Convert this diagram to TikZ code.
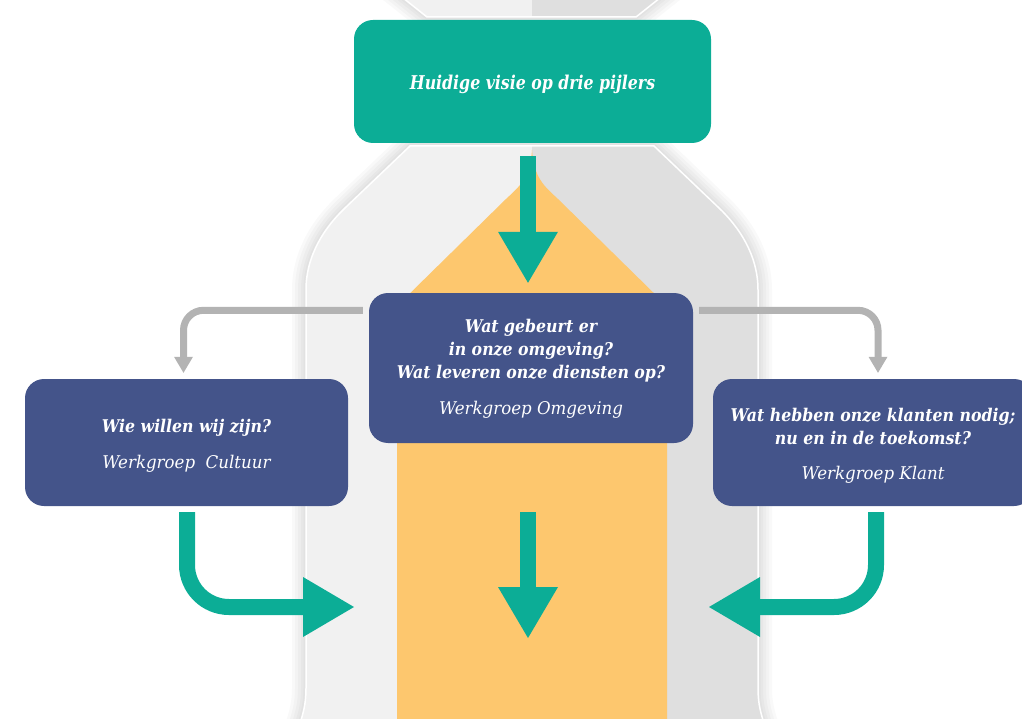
\documentclass[tikz,border=0pt]{standalone}
\usepackage{fontspec}
\setmainfont{DejaVu Serif}[ItalicFeatures={FakeStretch=0.95}, BoldItalicFeatures={FakeStretch=0.9}]
\newfontfamily\headfont{DejaVu Serif}[FakeStretch=0.83]
\usetikzlibrary{arrows.meta,calc}
\definecolor{tgreen}{HTML}{0CAD96}
\definecolor{navy}{HTML}{44548A}
\definecolor{peach}{HTML}{FDC76E}
\definecolor{grayL}{HTML}{F1F1F1}
\definecolor{grayR}{HTML}{DFDFDF}
\definecolor{agray}{HTML}{B3B3B3}
\begin{document}
\begin{tikzpicture}[x=1pt,y=-1pt,
  gbox/.style={fill=tgreen, rounded corners=19pt, minimum width=357pt, minimum height=123pt, inner sep=0pt},
  nbox/.style={fill=navy, rounded corners=19pt, inner sep=0pt},
  headtext/.style={text=white, inner sep=0pt, font=\headfont\bfseries\itshape\fontsize{19}{23}\selectfont},
  boxtext/.style={text=white, align=center, inner sep=0pt, font=\bfseries\itshape\fontsize{17.5}{23}\selectfont},
  garrow/.style={draw=tgreen, line width=16pt, -{Triangle[width=60pt,length=51pt,line width=0pt]}},
  grayarr/.style={draw=agray, line width=7pt, rounded corners=20pt, -{Triangle[width=19pt,length=16pt,line width=0pt]}},
  shadowline/.style={draw=black, opacity=0.025}
]
\useasboundingbox (0,0) rectangle (1022,719);
\def\bottle{(410,146) -- (345,208) .. controls (325,227) and (306,255) .. (306,290) -- (306,688) .. controls (306,705) and (303,714) .. (298,730) -- (766,730) .. controls (761,714) and (758,705) .. (758,688) -- (758,290) .. controls (758,255) and (739,227) .. (719,208) -- (654,146) -- cycle}
\def\topcap{(393,-10) -- (427,17) -- (636,17) -- (670,-10) -- cycle}
% shadows
\foreach \w in {28,22,16,10,5} {
  \path[shadowline, line width=\w pt] \bottle;
  \path[shadowline, line width=\w pt] \topcap;
}
% bottle halves
\begin{scope}
  \clip \bottle;
  \fill[grayL] (0,0) rectangle (532,730);
  \fill[grayR] (532,0) rectangle (1022,730);
\end{scope}
\begin{scope}
  \clip \topcap;
  \fill[grayL] (0,-20) rectangle (532,30);
  \fill[grayR] (532,-20) rectangle (1022,30);
\end{scope}
\draw[white, line width=1.5pt] \bottle;
\draw[white, line width=1.5pt] \topcap;
% orange funnel
\fill[peach] (532,150) .. controls (530,178) and (520,186) .. (506,199) -- (397,306) -- (397,730)
  -- (667,730) -- (667,306) -- (558,199) .. controls (544,186) and (534,178) .. (532,150) -- cycle;
% boxes
\node[gbox] (top) at (532.5,81.5) {};
\node[headtext] (topT) at ([yshift=-2.5pt]top.center) {Huidige visie op drie pijlers};
\node[nbox, minimum width=324pt, minimum height=150pt] (omg) at (531,368) {};
\node[boxtext] (omgT) at ([yshift=-1pt]omg.center)
  {Wat gebeurt er\\in onze omgeving?\\Wat leveren onze diensten op?\\[13pt]{\mdseries Werkgroep Omgeving}};
\node[nbox, minimum width=323pt, minimum height=127pt] (cult) at (186.5,442.5) {};
\node[boxtext] (cultT) at ([yshift=-3pt]cult.center)
  {Wie willen wij zijn?\\[13pt]{\mdseries Werkgroep~ Cultuur}};
\node[nbox, minimum width=320pt, minimum height=127pt] (klant) at (873,442.5) {};
\node[boxtext] (klantT) at ([yshift=-3pt]klant.center)
  {Wat hebben onze klanten nodig;\\nu en in de toekomst?\\[12pt]{\mdseries Werkgroep Klant}};
% free ends
\coordinate (dest) at (528,638);
\coordinate (inL) at (354,607);
\coordinate (inR) at (709,607);
% arrows
\draw[garrow] ([xshift=-4.5pt,yshift=-13pt]top.south) -- ([xshift=-3pt,yshift=10pt]omg.north);
\draw[garrow] ([xshift=-3pt,yshift=-69pt]omg.south) -- (dest);
\draw[garrow, rounded corners=42pt] ([xshift=0.5pt,yshift=-6pt]cult.south) |- (inL);
\draw[garrow, rounded corners=42pt] ([xshift=3pt,yshift=-6pt]klant.south) |- (inR);
\draw[grayarr] ([xshift=-6pt,yshift=-17.5pt]omg.north west) -| ([xshift=-3pt,yshift=6pt]cult.north);
\draw[grayarr] ([xshift=6pt,yshift=-17.5pt]omg.north east) -| ([xshift=5pt,yshift=6pt]klant.north);
\end{tikzpicture}
\end{document}
